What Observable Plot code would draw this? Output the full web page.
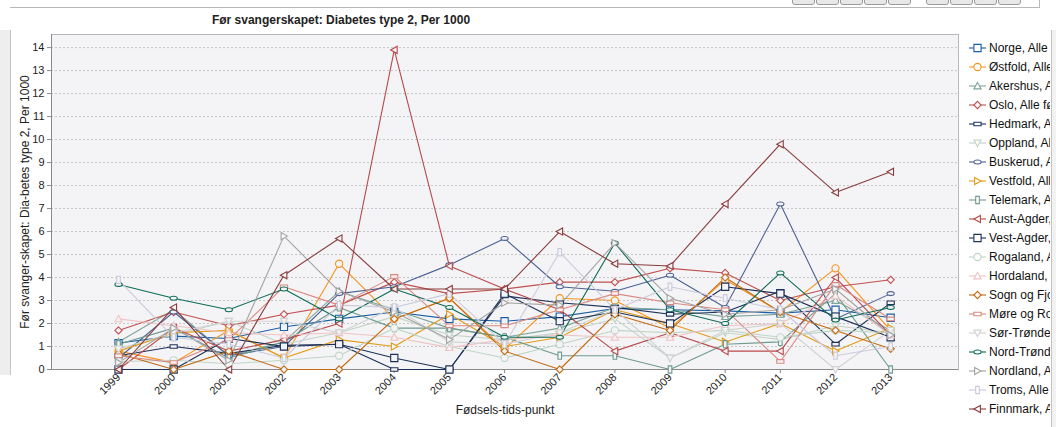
<!DOCTYPE html>
<html>
<head>
<meta charset="utf-8">
<script src="https://cdn.jsdelivr.net/npm/d3@7"></script>
<script src="https://cdn.jsdelivr.net/npm/@observablehq/plot@0.6"></script>
<style>
  html, body { margin: 0; padding: 0; background: #fff; }
  #wrap { position: relative; width: 1056px; height: 427px; overflow: hidden; font-family: "Liberation Sans", Arial, sans-serif; }
  #chart { position: absolute; left: 0; top: 0; }
  #title { position: absolute; left: 141px; top: 13px; width: 400px; text-align: center; font-weight: bold; font-size: 12px; color: #222; }
  #legend { position: absolute; left: 968px; top: 38px; width: 82px; overflow: hidden; font-size: 12px; color: #111; }
  .li { height: 19.05px; display: flex; align-items: center; white-space: nowrap; }
  .li svg { flex: none; margin-right: 2px; }
  .chrome { position: absolute; }
</style>
</head>
<body>
<div id="wrap">
  <div class="chrome" style="left:10px;top:7px;width:1030px;height:0;border-top:1px solid #b8b8b8"></div>
  <div class="chrome" style="left:1039px;top:0;width:0;height:7px;border-left:1px solid #b8b8b8"></div>
  <div class="chrome" style="left:0;top:30px;width:10px;height:345px;background:#eeeeee;border-right:1px solid #c4c4c4"></div>
  <div class="chrome" style="left:1051px;top:30px;width:5px;height:397px;background:#f2f2f2;border-left:1px solid #c4c4c4"></div>
  <div id="tb"></div>
  <div id="chart"></div>
  <div id="title">Før svangerskapet: Diabetes type 2, Per 1000</div>
  <div id="legend"></div>
</div>
<script>
const years = [1999, 2000, 2001, 2002, 2003, 2004, 2005, 2006, 2007, 2008, 2009, 2010, 2011, 2012, 2013];
const yTicks = [0, 1, 2, 3, 4, 5, 6, 7, 8, 9, 10, 11, 12, 13, 14];

const seriesNames = ["Norge", "Østfold", "Akershus", "Oslo", "Hedmark", "Oppland", "Buskerud", "Vestfold", "Telemark", "Aust-Agder",
  "Vest-Agder", "Rogaland", "Hordaland", "Sogn og Fjordane", "Møre og Romsdal", "Sør-Trøndelag", "Nord-Trøndelag", "Nordland", "Troms", "Finnmark"];
const seriesSuffix = ", Alle fødende";

const norge        = [1.15, 1.45, 1.35, 1.85, 2.2, 2.5, 2.2, 2.1, 2.3, 2.65, 2.6, 2.55, 2.45, 2.6, 2.25];
const ostfold      = [0.8, 0.3, 1.7, 0.5, 4.6, 2.2, 3.1, 0.9, 3.1, 3.0, 1.8, 3.9, 2.5, 4.4, 1.7];
const akershus     = [1.2, 2.6, 0.6, 1.2, 3.4, 2.6, 1.8, 1.4, 1.8, 2.7, 2.6, 2.3, 2.4, 3.0, 1.7];
const oslo         = [1.7, 2.5, 1.9, 2.4, 2.8, 3.8, 3.3, 3.5, 3.8, 3.8, 4.4, 4.2, 3.0, 3.6, 3.9];
const hedmark      = [0.6, 1.0, 0.7, 1.05, 1.1, 0.0, 0.0, 3.2, 2.9, 2.7, 2.4, 2.5, 3.4, 1.1, 2.9];
const oppland      = [0.9, 1.5, 2.1, 1.1, 1.6, 2.3, 1.5, 1.3, 1.6, 2.2, 0.5, 1.6, 1.3, 1.9, 1.6];
const buskerud     = [0.5, 2.5, 0.6, 1.0, 3.3, 3.6, 4.55, 5.7, 3.6, 3.4, 4.1, 2.7, 7.2, 2.2, 3.3];
const vestfold     = [0.8, 1.6, 1.7, 0.5, 1.3, 1.0, 2.4, 1.0, 1.4, 2.6, 2.0, 1.2, 2.0, 0.8, 1.8];
const telemark     = [1.1, 1.8, 0.5, 1.2, 2.7, 1.8, 1.8, 1.4, 0.6, 0.6, 0.0, 1.1, 1.2, 3.3, 0.0];
const austAgder    = [0.0, 1.8, 0.8, 1.3, 2.0, 13.9, 4.5, 3.5, 2.6, 0.8, 1.6, 0.8, 0.8, 4.0, 1.5];
const vestAgder    = [0.0, 0.0, 1.35, 1.0, 1.1, 0.5, 0.0, 3.3, 2.1, 2.5, 2.0, 3.6, 3.3, 2.3, 1.4];
const rogaland     = [0.35, 0.4, 0.25, 0.4, 0.6, 1.8, 1.0, 0.5, 1.1, 1.7, 1.6, 1.7, 1.4, 1.7, 1.6];
const hordaland    = [2.2, 1.9, 1.6, 1.5, 1.6, 1.4, 0.95, 1.3, 1.5, 1.4, 1.4, 1.9, 2.0, 3.2, 1.5];
const sognFjordane = [0.7, 0.0, 0.8, 0.0, 0.0, 2.2, 3.1, 0.8, 0.0, 2.4, 1.7, 4.0, 2.5, 1.7, 0.9];
const moreRomsdal  = [0.6, 0.3, 1.3, 3.6, 2.8, 4.05, 1.9, 1.9, 2.6, 3.3, 2.9, 2.6, 0.35, 3.7, 2.2];
const sorTrondelag = [0.9, 1.6, 2.1, 2.1, 1.6, 2.7, 1.2, 1.1, 1.6, 2.6, 0.5, 1.7, 2.0, 0.0, 1.7];
const nordTrondelag= [3.7, 3.1, 2.6, 3.5, 2.2, 3.5, 2.7, 1.4, 1.4, 5.5, 2.6, 2.0, 4.2, 2.15, 2.7];
const nordland     = [0.3, 1.8, 0.4, 5.8, 3.4, 2.5, 1.3, 2.9, 2.8, 5.5, 3.1, 2.4, 2.6, 3.5, 1.5];
const troms        = [3.9, 1.4, 1.1, 0.5, 2.8, 2.7, 3.3, 1.1, 5.1, 2.6, 3.6, 3.1, 2.6, 0.6, 1.0];
const finnmark     = [0.0, 2.7, 0.0, 4.1, 5.7, 3.5, 3.5, 3.5, 6.0, 4.6, 4.5, 7.2, 9.8, 7.7, 8.6];

const seriesValues = [norge, ostfold, akershus, oslo, hedmark, oppland, buskerud, vestfold, telemark, austAgder,
  vestAgder, rogaland, hordaland, sognFjordane, moreRomsdal, sorTrondelag, nordTrondelag, nordland, troms, finnmark];

const seriesColors = ["#1a5ea6", "#f7941d", "#7ea59a", "#c0504d", "#1c3158", "#c2d4c6", "#4c6193", "#e39b16", "#6f9a8e", "#b8494a",
  "#1c3158", "#bfd5c7", "#f0c2c2", "#c26a12", "#d9897f", "#d2d2d2", "#0d6b57", "#a3a3a3", "#cacadc", "#8a3c3c"];
const seriesShapes = ["square", "circle", "triUp", "diamond", "hrect", "triDown", "ellipse", "triRight", "vrect", "triLeft",
  "square", "circle", "triUp", "diamond", "hrect", "triDown", "ellipse", "triRight", "vrect", "triLeft"];

// custom marker shapes (drawn with a path context)
function shape(kind) {
  return {
    draw(ctx, size) {
      const r = Math.sqrt(size / Math.PI);
      const k = 0.5523;
      switch (kind) {
        case "square": ctx.moveTo(-r, -r); ctx.lineTo(r, -r); ctx.lineTo(r, r); ctx.lineTo(-r, r); ctx.closePath(); break;
        case "circle": ctx.moveTo(r, 0); ctx.arc(0, 0, r, 0, 2 * Math.PI); break;
        case "triUp": ctx.moveTo(0, -r); ctx.lineTo(r, r * 0.8); ctx.lineTo(-r, r * 0.8); ctx.closePath(); break;
        case "triDown": ctx.moveTo(0, r); ctx.lineTo(r, -r * 0.8); ctx.lineTo(-r, -r * 0.8); ctx.closePath(); break;
        case "triRight": ctx.moveTo(r, 0); ctx.lineTo(-r * 0.8, r); ctx.lineTo(-r * 0.8, -r); ctx.closePath(); break;
        case "triLeft": ctx.moveTo(-r, 0); ctx.lineTo(r * 0.8, r); ctx.lineTo(r * 0.8, -r); ctx.closePath(); break;
        case "diamond": ctx.moveTo(0, -r); ctx.lineTo(r, 0); ctx.lineTo(0, r); ctx.lineTo(-r, 0); ctx.closePath(); break;
        case "hrect": ctx.moveTo(-r, -r * 0.5); ctx.lineTo(r, -r * 0.5); ctx.lineTo(r, r * 0.5); ctx.lineTo(-r, r * 0.5); ctx.closePath(); break;
        case "vrect": ctx.moveTo(-r * 0.5, -r); ctx.lineTo(r * 0.5, -r); ctx.lineTo(r * 0.5, r); ctx.lineTo(-r * 0.5, r); ctx.closePath(); break;
        case "ellipse": {
          const a = r, b = r * 0.55;
          ctx.moveTo(a, 0);
          ctx.bezierCurveTo(a, b * k, a * k, b, 0, b);
          ctx.bezierCurveTo(-a * k, b, -a, b * k, -a, 0);
          ctx.bezierCurveTo(-a, -b * k, -a * k, -b, 0, -b);
          ctx.bezierCurveTo(a * k, -b, a, -b * k, a, 0);
          ctx.closePath();
          break;
        }
      }
    }
  };
}

const rows = seriesNames.flatMap((name, i) => years.map((yr, j) => ({ series: name, idx: i, year: yr, value: seriesValues[i][j] })));

const xDomain = [1997.785, 2014.23];
const bg = "#f4f4f6";

const marks = [
  Plot.frame({ fill: bg, stroke: "#b8b8b8" }),
  Plot.gridY(yTicks, { stroke: "#c6c6c6", strokeOpacity: 1, strokeDasharray: "2,2" }),
  Plot.ruleY([0], { stroke: "#8a8a8a" }),
  Plot.ruleX([xDomain[0]], { stroke: "#8a8a8a" }),
  Plot.axisY(yTicks, { tickSize: 4, tickPadding: 3, stroke: "#8a8a8a", label: "Før svanger-skapet: Dia-betes type 2, Per 1000", labelAnchor: "center", labelOffset: 31, labelArrow: "none", fill: "#222" }),
  Plot.axisX(years, { tickSize: 4, tickPadding: 2, tickRotate: -45, tickFormat: d => String(d), stroke: "#8a8a8a", label: "Fødsels-tids-punkt", labelAnchor: "center", labelOffset: 44, labelArrow: "none", fill: "#222" })
];
seriesNames.forEach((name, i) => {
  const d = rows.filter(r => r.idx === i);
  marks.push(Plot.line(d, { x: "year", y: "value", stroke: seriesColors[i], strokeWidth: 1.1 }));
});
seriesNames.forEach((name, i) => {
  const d = rows.filter(r => r.idx === i);
  marks.push(Plot.dot(d, { x: "year", y: "value", symbol: shape(seriesShapes[i]), r: 3.6, stroke: seriesColors[i], fill: bg, strokeWidth: 1.1 }));
});

const chart = Plot.plot({
  width: 960,
  height: 427,
  marginLeft: 51,
  marginRight: 2,
  marginTop: 34,
  marginBottom: 58,
  style: { fontFamily: "'Liberation Sans', Arial, sans-serif", fontSize: "11px", background: "transparent", color: "#222" },
  x: { type: "linear", domain: xDomain },
  y: { domain: [0, 14.57] },
  marks
});
d3.select(chart).selectAll('[aria-label="y-axis label"], [aria-label="x-axis label"]').attr("font-size", 12);
document.getElementById("chart").appendChild(chart);

// legend
const legend = document.getElementById("legend");
seriesNames.forEach((name, i) => {
  const item = document.createElement("div");
  item.className = "li";
  const p = d3.path();
  shape(seriesShapes[i]).draw(p, Math.PI * 3.6 * 3.6);
  item.innerHTML = `<svg width="19" height="12"><line x1="1" x2="18" y1="6" y2="6" stroke="${seriesColors[i]}" stroke-width="1.1"/><path transform="translate(9.5,6)" d="${p.toString()}" fill="#fff" stroke="${seriesColors[i]}" stroke-width="1.1"/></svg><span>${name}${seriesSuffix}</span>`;
  legend.appendChild(item);
});

// toolbar buttons (decorative)
const tb = document.getElementById("tb");
[792, 816, 840, 864, 888, 926, 950, 974, 998].forEach(x => {
  const b = document.createElement("div");
  b.className = "chrome";
  b.style.cssText = `left:${x}px;top:-6px;width:21px;height:9px;border:1px solid #9a9a9a;border-radius:3px;background:#e8e8e8`;
  tb.appendChild(b);
});
</script>
</body>
</html>
